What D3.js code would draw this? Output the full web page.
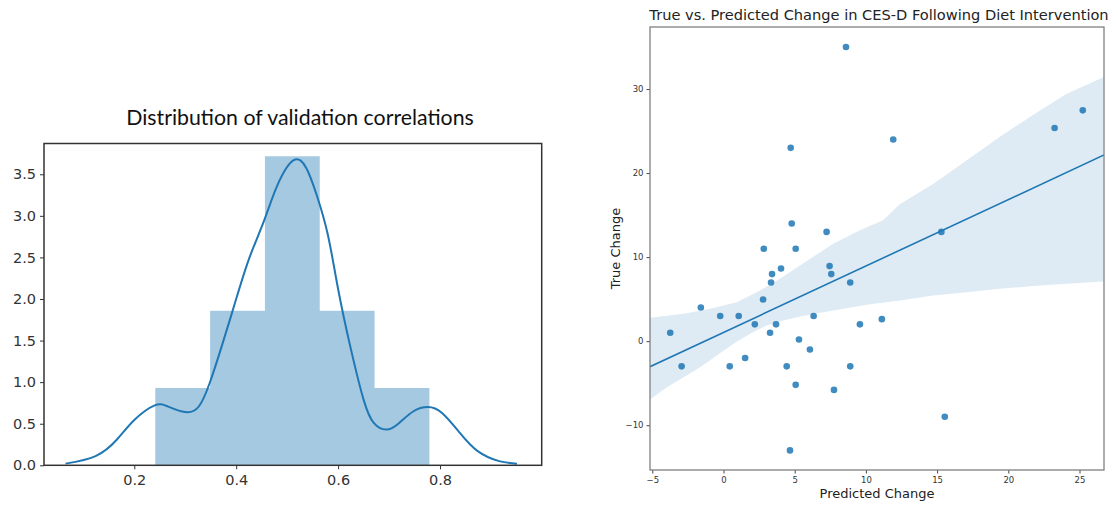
<!DOCTYPE html>
<html>
<head>
<meta charset="utf-8">
<script src="https://cdn.jsdelivr.net/npm/d3@7"></script>
<style>
  body { margin: 0; background: #fff; }
  svg { display: block; }
</style>
</head>
<body>
<svg id="chart" width="1118" height="506"></svg>
<script>
// ---- Left panel: distribution of validation correlations ----
const histEdges = [0.2412, 0.3488, 0.4564, 0.5640, 0.6716, 0.7792];
const histCounts = [1, 2, 4, 2, 1];
const kdeX = [0.065, 0.124, 0.166, 0.201, 0.240, 0.265, 0.300, 0.327, 0.348, 0.370, 0.398, 0.425, 0.454, 0.481, 0.513, 0.538, 0.558, 0.580, 0.600, 0.625, 0.650, 0.670, 0.695, 0.720, 0.748, 0.776, 0.804, 0.839, 0.874, 0.916, 0.951];
const kdeY = [0.02, 0.11, 0.31, 0.55, 0.72, 0.71, 0.64, 0.71, 0.99, 1.40, 1.96, 2.48, 2.93, 3.37, 3.67, 3.57, 3.25, 2.77, 2.12, 1.40, 0.79, 0.51, 0.43, 0.51, 0.65, 0.70, 0.63, 0.39, 0.17, 0.05, 0.02];
const leftXTicks = [0.2, 0.4, 0.6, 0.8];
const leftYTicks = [0.0, 0.5, 1.0, 1.5, 2.0, 2.5, 3.0, 3.5];

// ---- Right panel: true vs predicted change ----
const predicted = [8.6, 4.72, 11.92, 23.25, 25.23, 4.79, 7.24, 15.3, 2.83, 5.07, 4.04, 7.45, 3.41, 7.57, 3.34, 8.9, 2.78, -1.59, -0.23, 1.07, 6.33, 2.2, 3.69, 9.58, 11.12, -3.74, 3.27, 5.3, 6.07, 1.52, -2.94, 0.44, 4.44, 8.9, 5.07, 7.76, 15.54, 4.67];
const trueChange = [35, 23, 24, 25.36, 27.46, 14, 13, 13, 11, 11, 8.65, 8.93, 7.98, 7.98, 6.98, 6.98, 4.96, 4, 3, 3, 3, 2, 2, 2, 2.62, 1, 1, 0.2, -1, -2, -3, -3, -3, -3, -5.2, -5.8, -9, -13];
const bandX  = [-5.19, -2.8, -0.93, 0.93, 2.57, 3.97, 5.37, 7.71, 9.58, 11.21, 12.38, 14.72, 17.06, 19.39, 21.73, 24.07, 26.68];
const bandHi = [2.78, 3.25, 3.85, 4.64, 6.03, 7.42, 9.0, 11.6, 13.2, 14.4, 16.3, 18.7, 21.5, 24.3, 26.9, 29.4, 31.4];
const bandLoX = [-5.19, -3.97, -2.8, -1.64, -0.47, 0.7, 1.87, 3.04, 4.21, 5.37, 7.71, 10.05, 12.38, 14.72, 17.06, 19.39, 21.73, 24.07, 26.68];
const bandLo  = [-6.98, -5.48, -4.29, -3.1, -1.7, -0.3, 0.87, 1.87, 2.46, 2.94, 3.65, 4.33, 4.84, 5.44, 5.83, 6.23, 6.55, 6.83, 7.1];
const rightXTicks = [-5, 0, 5, 10, 15, 20, 25];
const rightYTicks = [-10, 0, 10, 20, 30];

const svg = d3.select("#chart");
const blue = "#1f77b4";

// ================= Left panel =================
const L = { x0: 44, x1: 541.7, y0: 143.5, y1: 465.3 };
const lx = d3.scaleLinear().domain([0.0228, 0.9996]).range([L.x0, L.x1]);
const ly = d3.scaleLinear().domain([0, 3.87]).range([L.y1, L.y0]);
const gl = svg.append("g");

const total = d3.sum(histCounts);
const bins = histCounts.map((c, i) => {
  const a = histEdges[i], b = histEdges[i + 1];
  return { a, b, d: c / (total * (b - a)) };
});

// bars share edges, so draw them as one path to avoid seams
gl.append("path")
  .attr("d", bins.map(d => `M${lx(d.a)},${ly(0)}V${ly(d.d)}H${lx(d.b)}V${ly(0)}Z`).join(""))
  .attr("fill", blue).attr("fill-opacity", 0.4).attr("fill-rule", "nonzero");

gl.append("path")
  .datum(kdeX.map((x, i) => [x, kdeY[i]]))
  .attr("d", d3.line().x(d => lx(d[0])).y(d => ly(d[1])).curve(d3.curveNatural))
  .attr("fill", "none").attr("stroke", blue).attr("stroke-width", 2);

const lxAxis = gl.append("g").attr("transform", `translate(0,${L.y1})`)
  .call(d3.axisBottom(lx).tickValues(leftXTicks).tickFormat(d3.format(".1f")).tickSize(4).tickPadding(5));
const lyAxis = gl.append("g").attr("transform", `translate(${L.x0},0)`)
  .call(d3.axisLeft(ly).tickValues(leftYTicks).tickFormat(d3.format(".1f")).tickSize(4).tickPadding(4));
[lxAxis, lyAxis].forEach(a => {
  a.select(".domain").remove();
  a.selectAll("line").attr("stroke", "#333");
  a.selectAll("text").attr("font-family", "DejaVu Sans, sans-serif").attr("font-size", 14.5).attr("fill", "#333");
});

gl.append("rect")
  .attr("x", L.x0).attr("y", L.y0).attr("width", L.x1 - L.x0).attr("height", L.y1 - L.y0)
  .attr("fill", "none").attr("stroke", "#333").attr("stroke-width", 1.5);

gl.append("text")
  .attr("x", 300).attr("y", 125)
  .attr("text-anchor", "middle")
  .attr("font-family", "Lato, sans-serif").attr("font-size", 21.3)
  .attr("fill", "#111")
  .text("Distribution of validation correlations");

// ================= Right panel =================
const R = { x0: 650, x1: 1104, y0: 27, y1: 470 };
const rx = d3.scaleLinear().domain([-5.16, 26.72]).range([R.x0, R.x1]);
const ry = d3.scaleLinear().domain([-15.33, 37.38]).range([R.y1, R.y0]);
const gr = svg.append("g");

gr.append("clipPath").attr("id", "rclip").append("rect")
  .attr("x", R.x0).attr("y", R.y0).attr("width", R.x1 - R.x0).attr("height", R.y1 - R.y0);
const plot = gr.append("g").attr("clip-path", "url(#rclip)");

// confidence band
const upper = bandX.map((x, i) => [x, bandHi[i]]);
const lower = bandLoX.map((x, i) => [x, bandLo[i]]).reverse();
plot.append("path")
  .datum(upper.concat(lower))
  .attr("d", d => "M" + d.map(p => `${rx(p[0])},${ry(p[1])}`).join("L") + "Z")
  .attr("fill", blue).attr("fill-opacity", 0.15).attr("stroke", "none");

// least-squares fit
const mx = d3.mean(predicted), my = d3.mean(trueChange);
const sxy = d3.sum(predicted, (x, i) => (x - mx) * (trueChange[i] - my));
const sxx = d3.sum(predicted, x => (x - mx) * (x - mx));
const slope = sxy / sxx, intercept = my - slope * mx;
const dom = rx.domain();
plot.append("line")
  .attr("x1", rx(dom[0])).attr("y1", ry(intercept + slope * dom[0]))
  .attr("x2", rx(dom[1])).attr("y2", ry(intercept + slope * dom[1]))
  .attr("stroke", blue).attr("stroke-width", 1.6);

plot.selectAll("circle").data(predicted).enter().append("circle")
  .attr("cx", d => rx(d))
  .attr("cy", (d, i) => ry(trueChange[i]))
  .attr("r", 3.3)
  .attr("fill", blue).attr("fill-opacity", 0.85);

const rxAxis = gr.append("g").attr("transform", `translate(0,${R.y1})`)
  .call(d3.axisBottom(rx).tickValues(rightXTicks).tickFormat(d3.format("d")).tickSize(3.5).tickPadding(3));
const ryAxis = gr.append("g").attr("transform", `translate(${R.x0},0)`)
  .call(d3.axisLeft(ry).tickValues(rightYTicks).tickFormat(d3.format("d")).tickSize(3.5).tickPadding(3));
[rxAxis, ryAxis].forEach(a => {
  a.select(".domain").remove();
  a.selectAll("line").attr("stroke", "#444");
  a.selectAll("text").attr("font-family", "DejaVu Sans, sans-serif").attr("font-size", 8.5).attr("fill", "#333");
});

gr.append("rect")
  .attr("x", R.x0).attr("y", R.y0).attr("width", R.x1 - R.x0).attr("height", R.y1 - R.y0)
  .attr("fill", "none").attr("stroke", "#808080").attr("stroke-width", 1.3);

gr.append("text")
  .attr("x", (R.x0 + R.x1) / 2 + 2).attr("y", 20)
  .attr("text-anchor", "middle")
  .attr("font-family", "DejaVu Sans, sans-serif").attr("font-size", 14.6)
  .attr("fill", "#222")
  .text("True vs. Predicted Change in CES-D Following Diet Intervention");

gr.append("text")
  .attr("x", (R.x0 + R.x1) / 2).attr("y", 498)
  .attr("text-anchor", "middle")
  .attr("font-family", "DejaVu Sans, sans-serif").attr("font-size", 13)
  .attr("fill", "#222")
  .text("Predicted Change");

gr.append("text")
  .attr("transform", `translate(620,${(R.y0 + R.y1) / 2}) rotate(-90)`)
  .attr("text-anchor", "middle")
  .attr("font-family", "DejaVu Sans, sans-serif").attr("font-size", 13)
  .attr("fill", "#222")
  .text("True Change");
</script>
</body>
</html>
